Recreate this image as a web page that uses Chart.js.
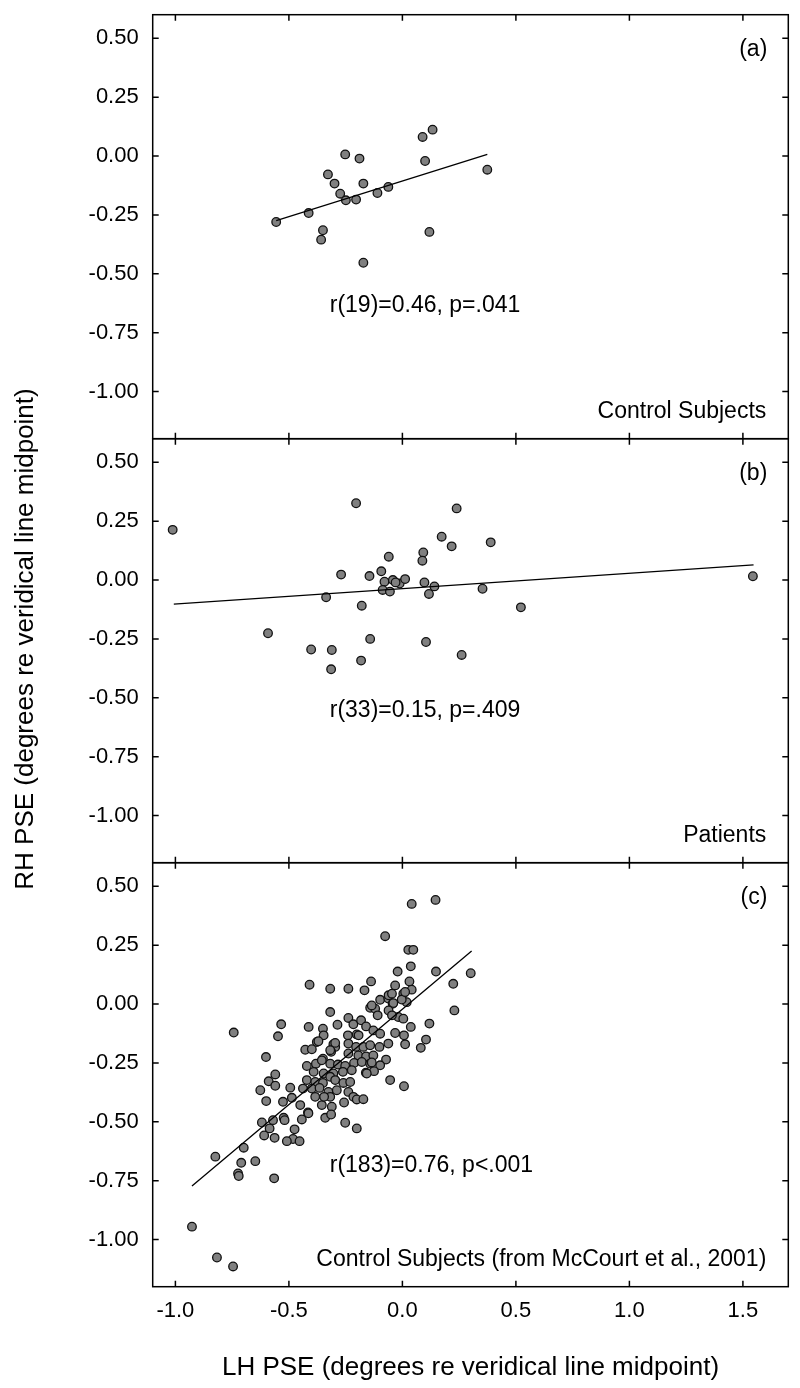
<!DOCTYPE html>
<html>
<head>
<meta charset="utf-8">
<title>RH PSE vs LH PSE</title>
<script src="https://cdn.jsdelivr.net/npm/chart.js@4.4.0/dist/chart.umd.min.js"></script>
<style>
  body { margin: 0; background: #fff; }
  #wrap { position: relative; width: 800px; height: 1388px; }
</style>
</head>
<body>
<div id="wrap"><canvas id="grafico"></canvas></div>
<script>
// ticks
var xTicks = [-1.0, -0.5, 0.0, 0.5, 1.0, 1.5];
var yTicks = [-1.0, -0.75, -0.5, -0.25, 0.0, 0.25, 0.5];

// (a) control subjects
var controlLH = [-0.556, -0.413, -0.350, -0.358, -0.252, -0.189, -0.328, -0.299, -0.274, -0.249,
                 -0.204, -0.172, -0.172, -0.110, -0.062, 0.089, 0.133, 0.100, 0.374, 0.119];
var controlRH = [-0.280, -0.242, -0.315, -0.355, 0.007, -0.011, -0.078, -0.117, -0.160, -0.188,
                 -0.185, -0.117, -0.453, -0.157, -0.131, 0.081, 0.112, -0.021, -0.058, -0.322];
var controlFitLH = [-0.556, 0.374];
var controlFitRH = [-0.274, 0.007];

// (b) patients
var patientLH = [-1.012, -0.204, -0.592, -0.402, -0.311, -0.314, -0.336, -0.270, -0.179, -0.142,
                 -0.182, -0.145, -0.093, -0.060, -0.079, -0.087, -0.055, -0.042, -0.012, 0.012,
                 0.239, 0.173, 0.217, 0.389, 0.092, 0.088, 0.097, 0.141, 0.117, 0.353,
                 0.522, 0.104, 0.261, 1.544, -0.030];
var patientRH = [0.213, 0.326, -0.226, -0.295, -0.297, -0.379, -0.073, 0.023, -0.109, -0.250,
                 -0.342, 0.017, 0.037, 0.099, -0.007, -0.042, -0.049, 0.000, -0.015, 0.004,
                 0.304, 0.184, 0.143, 0.160, 0.117, 0.082, -0.010, -0.027, -0.059, -0.037,
                 -0.116, -0.263, -0.318, 0.016, -0.010];
var patientFitLH = [-1.007, 1.547];
var patientFitRH = [-0.102, 0.064];

// (c) control subjects, McCourt et al. 2001
var mccourtLH = [-0.076, -0.021, -0.409, -0.318, -0.238, -0.167, -0.138, -0.032, -0.098, -0.062,
                 -0.142, -0.120, -0.109, -0.043, -0.318, -0.286, -0.238, -0.216, -0.182, -0.160,
                 -0.128, -0.032, -0.098, -0.018, -0.743, -0.534, -0.548, -0.413, -0.350, -0.347,
                 -0.377, -0.304, -0.296, -0.240, -0.201, -0.238, -0.204, -0.172, -0.142, -0.101,
                 -0.062, -0.428, -0.399, -0.601, -0.314, -0.238, -0.194, -0.160, -0.128, -0.072,
                 -0.421, -0.381, -0.350, -0.318, -0.284, -0.252, -0.213, -0.179, -0.142, -0.098,
                 -0.125, -0.161, -0.391, -0.347, -0.304, -0.262, -0.223, -0.560, -0.589, -0.626,
                 -0.560, -0.494, -0.421, -0.384, -0.350, -0.318, -0.296, -0.260, -0.230, -0.054,
                 -0.487, -0.438, -0.399, -0.365, -0.326, -0.289, -0.238, -0.216, -0.201, -0.172,
                 -0.600, -0.526, -0.450, -0.384, -0.355, -0.318, -0.311, -0.257, -0.416, -0.340,
                 -0.314, -0.619, -0.570, -0.523, -0.519, -0.443, -0.252, -0.201, -0.475, -0.482,
                 -0.509, -0.453, -0.585, -0.609, -0.563, -0.699, -0.824, -0.710, -0.648, -0.724,
                 -0.721, -0.565, -0.927, -0.817, -0.746, 0.041, 0.146, 0.026, 0.048, 0.037,
                 0.148, 0.031, 0.041, 0.004, 0.019, 0.224, 0.301, 0.229, 0.004, 0.037,
                 0.119, 0.007, 0.012, 0.104, 0.081, 0.007, -0.003, 0.012, -0.061, -0.046,
                 -0.040, -0.061, -0.046, -0.193, -0.135, -0.370, -0.296, -0.318, -0.355, -0.345,
                 -0.414, -0.135, -0.157];
var mccourtRH = [0.288, 0.138, 0.082, 0.065, 0.065, 0.058, 0.096, 0.079, 0.018, 0.023,
                 -0.016, -0.020, -0.048, 0.001, -0.034, -0.088, -0.059, -0.086, -0.069, -0.095,
                 -0.112, -0.123, -0.126, -0.055, -0.121, -0.086, -0.137, -0.097, -0.105, -0.133,
                 -0.161, -0.171, -0.182, -0.133, -0.129, -0.168, -0.182, -0.182, -0.175, -0.182,
                 -0.168, -0.194, -0.192, -0.225, -0.203, -0.210, -0.218, -0.222, -0.218, -0.236,
                 -0.263, -0.253, -0.232, -0.253, -0.257, -0.263, -0.250, -0.246, -0.253, -0.260,
                 -0.285, -0.292, -0.288, -0.295, -0.295, -0.288, -0.281, -0.299, -0.328, -0.366,
                 -0.347, -0.355, -0.323, -0.331, -0.335, -0.309, -0.323, -0.335, -0.331, -0.323,
                 -0.398, -0.359, -0.359, -0.356, -0.373, -0.366, -0.373, -0.394, -0.405, -0.404,
                 -0.412, -0.415, -0.429, -0.394, -0.429, -0.394, -0.436, -0.418, -0.460, -0.483,
                 -0.469, -0.503, -0.493, -0.483, -0.493, -0.490, -0.504, -0.528, -0.532, -0.573,
                 -0.582, -0.582, -0.528, -0.558, -0.568, -0.610, -0.648, -0.674, -0.667, -0.719,
                 -0.730, -0.740, -0.945, -1.076, -1.114, 0.425, 0.442, 0.230, 0.230, 0.160,
                 0.138, 0.096, 0.061, 0.044, 0.008, 0.086, 0.131, -0.027, -0.062, -0.097,
                 -0.083, -0.133, -0.171, -0.151, -0.186, -0.349, 0.019, 0.051, 0.037, 0.044,
                 0.004, -0.027, -0.048, -0.133, -0.006, -0.158, -0.165, -0.196, -0.239, -0.394,
                 -0.464, -0.248, -0.295];
var mccourtFitLH = [-0.927, 0.305];
var mccourtFitRH = [-0.773, 0.225];

var panelIds = ['ya', 'yb', 'yc'];
var panelLetters = ['(a)', '(b)', '(c)'];
var panelNames = ['Control Subjects', 'Patients', 'Control Subjects (from McCourt et al., 2001)'];
var statTexts = ['r(19)=0.46, p=.041', 'r(33)=0.15, p=.409', 'r(183)=0.76, p<.001'];
var statLH = [-0.32, -0.32, -0.32];
var statRH = [-0.66, -0.582, -0.712];

var fonte = 'Arial, "Liberation Sans", Helvetica, sans-serif';

function pares(xs, ys) {
    return xs.map(function(x, i) { return { x: x, y: ys[i] }; });
}

function pontos(xs, ys, eixo) {
    return {
        data: pares(xs, ys),
        yAxisID: eixo,
        pointRadius: 4.3,
        pointHoverRadius: 4.3,
        pointBackgroundColor: '#808080',
        pointBorderColor: '#111',
        pointBorderWidth: 1.3,
        showLine: false
    };
}

function reta(xs, ys, eixo) {
    return {
        data: pares(xs, ys),
        yAxisID: eixo,
        showLine: true,
        borderColor: '#000',
        borderWidth: 1.3,
        pointRadius: 0,
        fill: false
    };
}

function semPadding(s) {
    s.paddingTop = 0;
    s.paddingBottom = 0;
    s.paddingLeft = 0;
    s.paddingRight = 0;
}

function eixoY(peso) {
    return {
        type: 'linear',
        position: 'left',
        stack: 'paineis',
        stackWeight: 1,
        weight: peso,
        min: -1.2,
        max: 0.6,
        grid: { display: false, drawTicks: false },
        border: { display: false },
        ticks: {
            color: '#000',
            padding: 14,
            font: { family: fonte, size: 22 },
            callback: function(v) { return v.toFixed(2); }
        },
        afterBuildTicks: function(s) { s.ticks = yTicks.map(function(v) { return { value: v }; }); },
        afterFit: function(s) { s.width = 152.7; semPadding(s); }
    };
}

// frames, inward ticks and texts
var molduras = {
    id: 'molduras',
    afterDraw: function(chart) {
        var ctx = chart.ctx;
        var area = chart.chartArea;
        var x = chart.scales.x;
        ctx.save();
        ctx.strokeStyle = '#000';
        ctx.fillStyle = '#000';
        ctx.lineWidth = 1.5;
        panelIds.forEach(function(id, i) {
            var s = chart.scales[id];
            ctx.strokeRect(area.left, s.top, area.right - area.left, s.bottom - s.top);
            ctx.beginPath();
            yTicks.forEach(function(v) {
                var py = s.getPixelForValue(v);
                ctx.moveTo(area.left, py); ctx.lineTo(area.left + 6, py);
                ctx.moveTo(area.right, py); ctx.lineTo(area.right - 6, py);
            });
            xTicks.forEach(function(v) {
                var px = x.getPixelForValue(v);
                ctx.moveTo(px, s.top); ctx.lineTo(px, s.top + 6);
                ctx.moveTo(px, s.bottom); ctx.lineTo(px, s.bottom - 6);
            });
            ctx.stroke();

            ctx.font = '23px ' + fonte;
            ctx.textAlign = 'right';
            ctx.textBaseline = 'middle';
            ctx.fillText(panelLetters[i], area.right - 21, s.top + 35);
            ctx.textBaseline = 'alphabetic';
            ctx.fillText(panelNames[i], area.right - 22, s.bottom - 21);
            ctx.textAlign = 'left';
            ctx.fillText(statTexts[i], x.getPixelForValue(statLH[i]), s.getPixelForValue(statRH[i]));
        });

        ctx.font = '26px ' + fonte;
        ctx.textAlign = 'center';
        ctx.textBaseline = 'alphabetic';
        ctx.fillText('LH PSE (degrees re veridical line midpoint)', (area.left + area.right) / 2, 1375);
        ctx.translate(33, 639);
        ctx.rotate(-Math.PI / 2);
        ctx.fillText('RH PSE (degrees re veridical line midpoint)', 0, 0);
        ctx.restore();
    }
};

window.onload = function() {
    var ctx = document.getElementById('grafico').getContext('2d');
    window.grafico = new Chart(ctx, {
        type: 'scatter',
        data: {
            datasets: [
                reta(controlFitLH, controlFitRH, 'ya'),
                pontos(controlLH, controlRH, 'ya'),
                reta(patientFitLH, patientFitRH, 'yb'),
                pontos(patientLH, patientRH, 'yb'),
                reta(mccourtFitLH, mccourtFitRH, 'yc'),
                pontos(mccourtLH, mccourtRH, 'yc')
            ]
        },
        options: {
            responsive: true,
            maintainAspectRatio: false,
            animation: false,
            layout: { padding: { top: 14.7, right: 11.7, left: 0, bottom: 0 } },
            plugins: {
                legend: { display: false },
                tooltip: { enabled: false },
                title: { display: false }
            },
            scales: {
                x: {
                    type: 'linear',
                    position: 'bottom',
                    min: -1.1,
                    max: 1.7,
                    grid: { display: false, drawTicks: false },
                    border: { display: false },
                    ticks: {
                        color: '#000',
                        padding: 11,
                        font: { family: fonte, size: 22 },
                        callback: function(v) { return v.toFixed(1); }
                    },
                    afterBuildTicks: function(s) { s.ticks = xTicks.map(function(v) { return { value: v }; }); },
                    afterFit: function(s) { s.height = 101.3; semPadding(s); }
                },
                ya: eixoY(3),
                yb: eixoY(2),
                yc: eixoY(1)
            }
        },
        plugins: [molduras]
    });
};
</script>
</body>
</html>
